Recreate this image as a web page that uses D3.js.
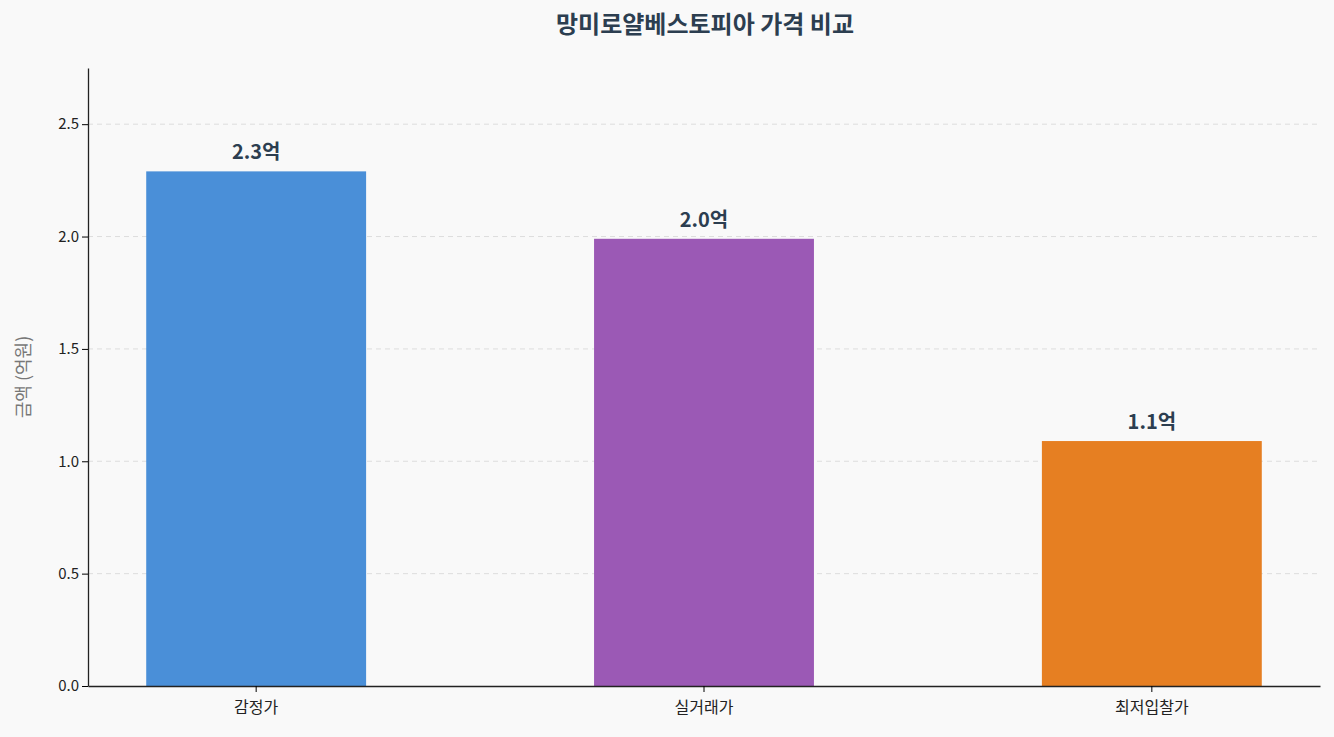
<!DOCTYPE html>
<html>
<head>
<meta charset="utf-8">
<script src="https://cdn.jsdelivr.net/npm/d3@7"></script>
<style>
  body { margin: 0; background: #f9f9f9; }
  text { font-family: "Noto Sans CJK KR", "Noto Sans", sans-serif; }
</style>
</head>
<body>
<svg width="1334" height="737"></svg>
<script>
// chart data
var categories = ["감정가", "실거래가", "최저입찰가"];
var values = [2.29, 1.99, 1.09];
var valueLabels = ["2.3억", "2.0억", "1.1억"];
var colors = ["#4a8fd8", "#9b59b5", "#e67f22"];
var yTicks = [0.0, 0.5, 1.0, 1.5, 2.0, 2.5];

var svg = d3.select("svg");
var margin = { top: 68, right: 14, bottom: 51, left: 88 };
var width = +svg.attr("width") - margin.left - margin.right;
var height = +svg.attr("height") - margin.top - margin.bottom;

svg.append("rect").attr("width", 1334).attr("height", 737).attr("fill", "#f9f9f9");

var g = svg.append("g")
    .attr("transform", "translate(" + margin.left + "," + margin.top + ")");

var x = d3.scaleBand()
    .domain(categories)
    .range([0, width])
    .paddingInner(0.509)
    .paddingOuter(0.13);

var y = d3.scaleLinear()
    .domain([0, 2.75])
    .range([height, 0]);

// grid lines
g.selectAll(".grid")
    .data(yTicks.slice(1))
    .enter().append("line")
    .attr("x1", 0).attr("x2", width)
    .attr("y1", function (d) { return y(d); })
    .attr("y2", function (d) { return y(d); })
    .attr("stroke", "#dddddd")
    .attr("stroke-dasharray", "5,4");

// bars
g.selectAll(".bar")
    .data(values)
    .enter().append("rect")
    .attr("x", function (d, i) { return x(categories[i]); })
    .attr("y", function (d) { return y(d); })
    .attr("width", x.bandwidth())
    .attr("height", function (d) { return height - y(d); })
    .attr("fill", function (d, i) { return colors[i]; });

// value labels
g.selectAll(".vlabel")
    .data(values)
    .enter().append("text")
    .attr("x", function (d, i) { return x(categories[i]) + x.bandwidth() / 2; })
    .attr("y", function (d) { return y(d) - 12; })
    .attr("text-anchor", "middle")
    .attr("font-size", 20)
    .attr("font-weight", "bold")
    .attr("fill", "#2c3e50")
    .text(function (d, i) { return valueLabels[i]; });

// axes
var xAxis = g.append("g")
    .attr("transform", "translate(0," + height + ")")
    .call(d3.axisBottom(x).tickSizeOuter(0));
xAxis.selectAll("text").attr("font-size", 16).attr("fill", "#222").attr("dy", "1.1em");

var yAxis = g.append("g")
    .call(d3.axisLeft(y).tickValues(yTicks).tickFormat(d3.format(".1f")).tickSizeOuter(0));
yAxis.selectAll("text").attr("font-size", 15).attr("fill", "#222");

g.selectAll(".domain").attr("stroke", "#222").attr("stroke-width", 1.3);

// y label
svg.append("text")
    .attr("transform", "translate(30," + (margin.top + height / 2) + ") rotate(-90)")
    .attr("text-anchor", "middle")
    .attr("font-size", 18)
    .attr("fill", "#777")
    .text("금액 (억원)");

// title
svg.append("text")
    .attr("x", 705)
    .attr("y", 33)
    .attr("text-anchor", "middle")
    .attr("font-size", 24)
    .attr("font-weight", "bold")
    .attr("fill", "#2c3e50")
    .text("망미로얄베스토피아 가격 비교");
</script>
</body>
</html>
